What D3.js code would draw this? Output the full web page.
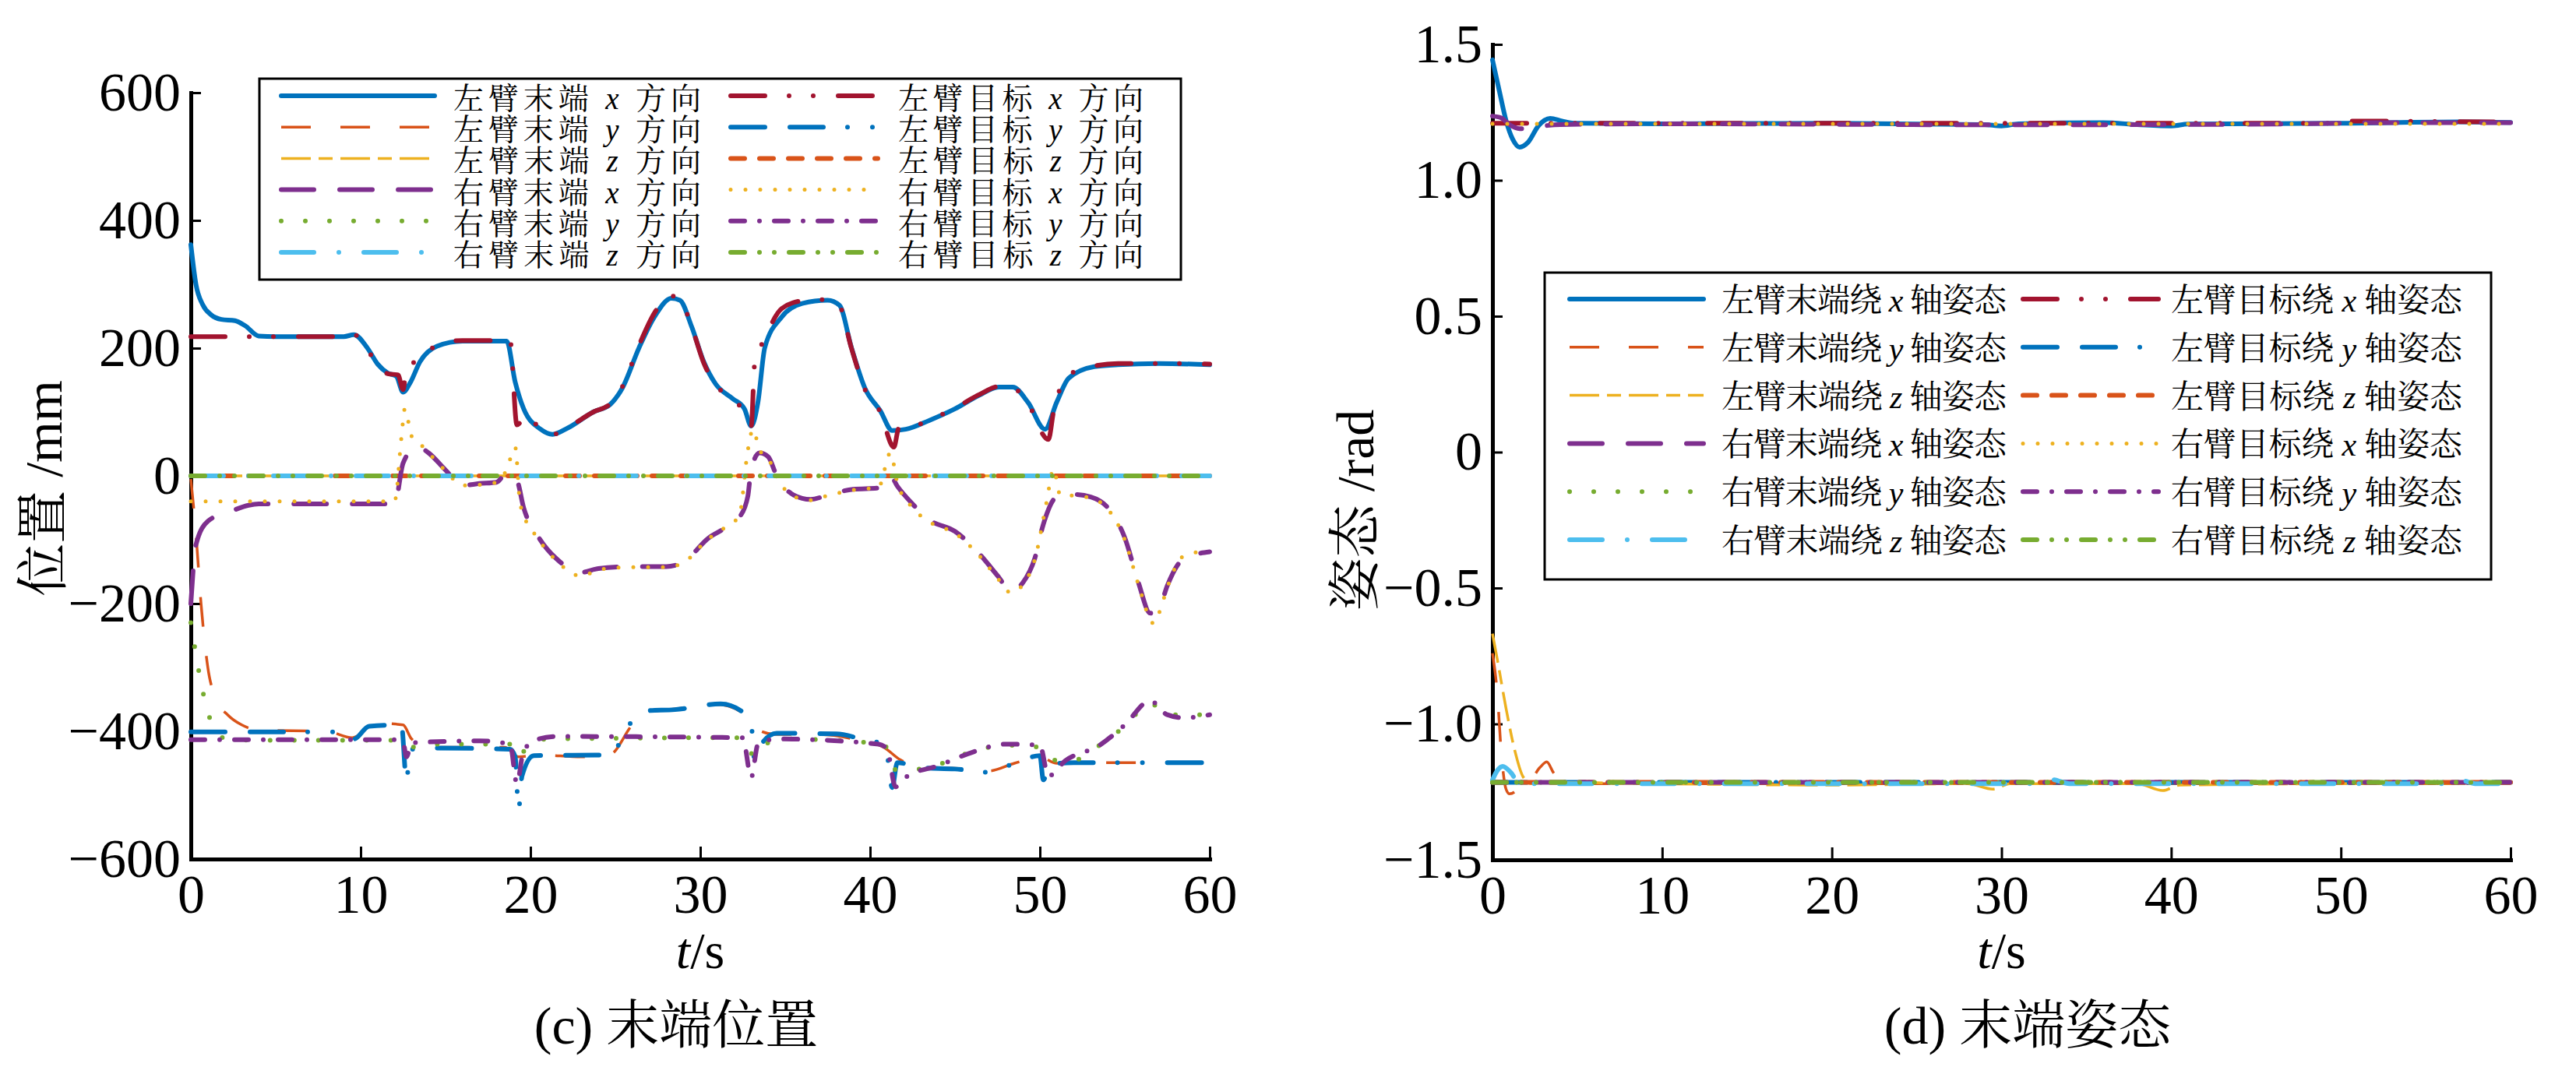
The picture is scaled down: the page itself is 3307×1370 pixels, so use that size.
<!DOCTYPE html>
<meta charset="utf-8">
<script src="https://d3js.org/d3.v7.min.js"></script>
<style>
  body { margin: 0; background: #fff; }
</style>
<body>
<script>

    // ---- ticks ----
    var timeTicks = [0, 10, 20, 30, 40, 50, 60];
    var posTicks = [-600, -400, -200, 0, 200, 400, 600];
    var attTicks = [-1.5, -1, -0.5, 0, 0.5, 1, 1.5];

    // ---- (c) end position, mm  [t, value] ----
    var posLeftActX = [[0,362],[0.3,300],[0.7,268],[1.2,252],[1.8,245],[2.6,243],[3.2,235],[4,219],[5,218],[9,218],[9.6,221],[10.4,200],[11,175],[11.6,161],[12.1,156],[12.5,131],[12.9,145],[13.5,179],[14.5,203],[16,211],[18.6,211],[19.1,147],[19.6,105],[20.6,73],[21.3,65],[22.2,75],[23.7,100],[24.7,112],[25.4,137],[26.4,201],[27.3,249],[28.3,278],[28.8,275],[29.5,233],[30.2,179],[30.9,144],[31.9,121],[32.6,105],[33,78],[33.4,116],[33.8,201],[34.8,249],[36,270],[37.5,275],[38.2,267],[38.9,201],[39.7,137],[40.6,102],[41.3,71],[42.1,73],[43.5,87],[45,105],[46.4,126],[47.6,139],[48.4,139],[49.3,115],[50.3,73],[51,116],[51.7,153],[53.2,171],[54.6,174],[57,176],[60,174]];
    var posLeftTgtX = [[0,218],[9,218],[9.6,221],[10.4,198],[11,172],[11.6,160],[12.2,158],[12.5,135],[12.7,170],[13.5,182],[14.5,205],[16,212],[18.8,212],[19.2,80],[19.8,95],[20.6,72],[21.3,65],[22.2,76],[23.7,100],[24.7,113],[25.4,139],[26.4,205],[27.3,255],[28.2,282],[28.8,276],[29.5,233],[30.2,177],[30.9,143],[31.9,120],[32.6,100],[33,78],[33.2,175],[33.8,215],[34.8,262],[36,274],[37.5,276],[38.2,266],[38.9,200],[39.7,135],[40.6,100],[41.4,45],[41.7,75],[42.1,74],[43.5,88],[45,106],[46.4,127],[47.6,140],[48.4,138],[49.3,113],[50.5,57],[50.8,100],[51.7,158],[53.2,172],[54.6,176],[57,176],[60,175]];
    var posLeftActY = [[0,-5],[0.3,-90],[0.6,-200],[1,-300],[1.5,-350],[2.2,-375],[3,-390],[4,-398],[8,-400],[9.5,-410],[10.5,-395],[11.5,-388],[12.5,-390],[13,-412],[14,-425],[18.5,-425],[19.3,-440],[20.5,-437],[23,-440],[24.7,-436],[26,-390],[27,-370],[28.5,-365],[31,-358],[32.3,-368],[33.2,-395],[34.5,-405],[37,-405],[39,-412],[40.8,-425],[41.8,-445],[43,-455],[45,-458],[47,-462],[48.5,-450],[50,-440],[51,-450],[53,-449],[60,-449]];
    var posLeftTgtY = [[0,-401],[9,-401],[9.6,-412],[10.5,-392],[12.4,-390],[12.7,-478],[12.9,-430],[13.5,-426],[18.8,-428],[19.1,-440],[19.3,-523],[19.5,-470],[20.2,-438],[24.7,-437],[25.8,-390],[26.8,-368],[28.5,-366],[31.2,-357],[32.4,-368],[33,-390],[33.2,-445],[33.6,-420],[34.5,-403],[38,-404],[39.5,-412],[40.9,-422],[41.3,-488],[41.6,-449],[43,-457],[45,-459],[47,-464],[48.5,-450],[50,-438],[50.2,-476],[50.6,-452],[52,-449],[60,-449]];
    var posLeftActZ = [[0,0],[60,0]];
    var posLeftTgtZ = [[0,0],[60,0]];
    var posRightActX = [[0,-200],[0.3,-108],[1,-71],[2.4,-55],[3.4,-46],[4,-44],[12,-44],[12.5,20],[13.3,46],[14,36],[15,9],[16,-15],[17,-12],[18,-10],[18.6,4],[19.2,-7],[19.6,-50],[20.5,-97],[21.5,-129],[23,-151],[24,-145],[26,-142],[28,-142],[29,-135],[30.5,-97],[31.5,-81],[32.3,-65],[32.8,-32],[33,11],[33.5,36],[34,30],[34.5,0],[35.5,-30],[36.5,-37],[37.5,-30],[39,-21],[40.5,-19],[41.2,0],[41.6,-16],[42.5,-44],[43.5,-69],[45,-87],[46.5,-124],[47.5,-156],[48.3,-180],[49,-167],[49.7,-129],[50.2,-76],[51,-33],[52,-29],[53,-33],[54,-50],[55,-97],[55.8,-167],[56.5,-215],[57,-209],[57.5,-172],[58.5,-129],[60,-119]];
    var posRightTgtX = [[0,-40],[12,-40],[12.4,60],[12.6,105],[13,62],[13.5,50],[14,36],[15,8],[16,-15],[17,-14],[18,-10],[18.6,10],[19.1,45],[19.4,-45],[20.5,-100],[21.5,-132],[23,-157],[24,-147],[26,-143],[28,-143],[29,-136],[30.5,-98],[31.5,-80],[32.3,-62],[32.8,40],[33.1,73],[33.5,40],[34,28],[34.5,-2],[35.5,-32],[36.5,-38],[37.5,-31],[39,-22],[40.5,-18],[41.2,36],[41.6,-10],[42.5,-50],[43.5,-72],[45,-90],[46.5,-127],[47.5,-160],[48.3,-183],[49,-170],[49.7,-131],[50.4,-40],[50.8,11],[51.2,-30],[52,-31],[53,-35],[54,-52],[55,-100],[55.8,-170],[56.7,-231],[57.2,-200],[57.5,-175],[58.5,-125],[60,-117]];
    var posRightActY = [[0,-230],[0.5,-310],[1,-370],[1.5,-400],[2.2,-413],[4,-414],[12,-414],[12.6,-420],[13,-425],[14,-420],[18.8,-420],[19.2,-440],[20,-420],[21,-412],[32.5,-410],[33.2,-440],[34,-418],[35,-412],[40.8,-420],[41.5,-460],[42.5,-460],[44,-452],[46,-432],[48,-422],[50,-425],[50.8,-445],[52,-445],[53.5,-422],[55,-392],[56.5,-356],[57.5,-374],[60,-374]];
    var posRightTgtY = [[0,-413],[12,-413],[12.5,-417],[12.7,-440],[13,-418],[17,-415],[18.8,-420],[19.2,-482],[19.6,-430],[20.5,-412],[21.5,-408],[32.5,-410],[33,-472],[33.4,-420],[34.5,-412],[40.5,-420],[41,-428],[41.5,-487],[42.2,-470],[44,-454],[46,-433],[48,-420],[50,-422],[50.5,-470],[51.5,-446],[53.5,-422],[55,-390],[56.5,-352],[57.5,-374],[58.5,-379],[60,-374]];
    var posRightActZ = [[0,0],[60,0]];
    var posRightTgtZ = [[0,0],[60,0]];

    // ---- (d) end attitude, rad  [t, value] ----
    var attLeftActX = [[0,1.443],[0.4,1.33],[0.8,1.22],[1.2,1.15],[1.6,1.122],[2.1,1.14],[2.7,1.2],[3.4,1.228],[4.1,1.218],[4.8,1.21],[10,1.208],[20,1.21],[29,1.205],[30,1.2],[31,1.208],[36,1.212],[38,1.205],[40,1.2],[41,1.207],[50,1.21],[57,1.215],[60,1.213]];
    var attLeftTgtX = [[0,1.21],[50,1.21],[50.6,1.218],[60,1.214]];
    var attLeftActY = [[0,-0.74],[0.3,-0.9],[0.5,-1.09],[0.8,-1.24],[1,-1.257],[1.4,-1.245],[1.8,-1.21],[2.3,-1.2],[2.8,-1.16],[3.2,-1.14],[3.6,-1.18],[4.2,-1.22],[10,-1.22],[60,-1.22]];
    var attLeftTgtY = [[0,-1.215],[60,-1.215]];
    var attLeftActZ = [[0,-0.668],[0.3,-0.768],[0.8,-0.943],[1.3,-1.094],[1.8,-1.194],[2.3,-1.219],[3,-1.215],[10,-1.22],[20,-1.225],[28,-1.22],[29.5,-1.24],[30.5,-1.22],[38,-1.22],[39.5,-1.245],[40.5,-1.225],[50,-1.22],[60,-1.22]];
    var attLeftTgtZ = [[0,-1.215],[60,-1.215]];
    var attRightActX = [[0,1.236],[0.5,1.23],[1,1.205],[1.6,1.19],[2.2,1.192],[3,1.2],[4,1.205],[10,1.208],[30,1.204],[40,1.205],[50,1.21],[50.6,1.22],[51.5,1.212],[60,1.212]];
    var attRightTgtX = [[0,1.208],[60,1.208]];
    var attRightActY = [[0,-1.215],[60,-1.215]];
    var attRightTgtY = [[0,-1.215],[60,-1.215]];
    var attRightActZ = [[0,-1.206],[0.3,-1.17],[0.6,-1.156],[1.1,-1.18],[1.6,-1.222],[2.5,-1.22],[32,-1.22],[33,-1.205],[34,-1.22],[56,-1.22],[57,-1.207],[58,-1.22],[60,-1.22]];
    var attRightTgtZ = [[0,-1.215],[60,-1.215]];

    // ---- legend labels: [prefix, axis letter, suffix] ----
    var posNames = [
        ["左臂末端", "x", "方向"], ["左臂末端", "y", "方向"], ["左臂末端", "z", "方向"],
        ["右臂末端", "x", "方向"], ["右臂末端", "y", "方向"], ["右臂末端", "z", "方向"],
        ["左臂目标", "x", "方向"], ["左臂目标", "y", "方向"], ["左臂目标", "z", "方向"],
        ["右臂目标", "x", "方向"], ["右臂目标", "y", "方向"], ["右臂目标", "z", "方向"]
    ];
    var attNames = [
        ["左臂末端绕", "x", "轴姿态"], ["左臂末端绕", "y", "轴姿态"], ["左臂末端绕", "z", "轴姿态"],
        ["右臂末端绕", "x", "轴姿态"], ["右臂末端绕", "y", "轴姿态"], ["右臂末端绕", "z", "轴姿态"],
        ["左臂目标绕", "x", "轴姿态"], ["左臂目标绕", "y", "轴姿态"], ["左臂目标绕", "z", "轴姿态"],
        ["右臂目标绕", "x", "轴姿态"], ["右臂目标绕", "y", "轴姿态"], ["右臂目标绕", "z", "轴姿态"]
    ];

    // line styles, in legend order (6 actual, then 6 target)
    var styles = [
        {color: "#0072BD", w: 6,   cap: "round", dash: null},
        {color: "#D95319", w: 3.5, cap: "butt",  dash: "38,38"},
        {color: "#EDB120", w: 3.5, cap: "butt",  dash: "38,10,18,10"},
        {color: "#7E2F8E", w: 6,   cap: "round", dash: "42,33"},
        {color: "#77AC30", w: 6,   cap: "round", dash: "0,31"},
        {color: "#4DBEEE", w: 6,   cap: "round", dash: "42,32,0,32"},
        {color: "#A2142F", w: 6,   cap: "round", dash: "44,31,0,31,0,32"},
        {color: "#0072BD", w: 6,   cap: "round", dash: "44,32,43,31,0,32,0,32"},
        {color: "#D95319", w: 6,   cap: "round", dash: "18,19"},
        {color: "#EDB120", w: 5,   cap: "round", dash: "0,19"},
        {color: "#7E2F8E", w: 6,   cap: "round", dash: "18,19,0,19"},
        {color: "#77AC30", w: 6,   cap: "round", dash: "18,19,0,19,0,19"}
    ];

    var posSeries = [posLeftActX, posLeftActY, posLeftActZ, posRightActX, posRightActY, posRightActZ,
                     posLeftTgtX, posLeftTgtY, posLeftTgtZ, posRightTgtX, posRightTgtY, posRightTgtZ];
    var attSeries = [attLeftActX, attLeftActY, attLeftActZ, attRightActX, attRightActY, attRightActZ,
                     attLeftTgtX, attLeftTgtY, attLeftTgtZ, attRightTgtX, attRightTgtY, attRightTgtZ];
    // draw order: actual then target, pair by pair
    var drawOrder = [0, 6, 1, 7, 2, 8, 3, 9, 4, 10, 5, 11];

    var FONT = "'Liberation Serif', 'Times New Roman', 'Noto Serif CJK SC', 'Noto Sans CJK SC', serif";

    var svg = d3.select("body")
        .append("svg")
        .attr("width", 3307)
        .attr("height", 1370)
        .style("font-family", FONT);

    function applyStyle(sel, st) {
        sel.attr("fill", "none")
            .attr("stroke", st.color)
            .attr("stroke-width", st.w)
            .attr("stroke-linecap", st.cap)
            .attr("stroke-linejoin", "round");
        if (st.dash) sel.attr("stroke-dasharray", st.dash);
    }

    function drawPanel(p) {
        var x = d3.scaleLinear().domain([0, 60]).range([p.left, p.right]);
        var y = d3.scaleLinear().domain(p.yDomain).range([p.bottom, p.top]);
        var g = svg.append("g");

        // x axis
        var xa = g.append("g")
            .attr("transform", "translate(0," + p.bottom + ")")
            .call(d3.axisBottom(x).tickValues(timeTicks).tickSize(-16).tickSizeOuter(0).tickPadding(19));
        // y axis
        var ya = g.append("g")
            .attr("transform", "translate(" + p.left + ",0)")
            .call(d3.axisLeft(y).tickValues(p.yTicks).tickFormat(p.fmt).tickSize(-13).tickSizeOuter(0).tickPadding(13));

        [xa, ya].forEach(function (a) {
            a.attr("font-family", FONT).attr("font-size", 70);
            a.select(".domain").attr("stroke", "#000").attr("stroke-width", 5).attr("stroke-linecap", "square");
            a.selectAll(".tick line").attr("stroke", "#000").attr("stroke-width", 3);
            a.selectAll(".tick text").attr("fill", "#000");
        });

        // curves
        var line = d3.line()
            .x(function (d) { return x(d[0]); })
            .y(function (d) { return y(d[1]); })
            .curve(d3.curveMonotoneX);
        drawOrder.forEach(function (i) {
            g.append("path").attr("d", line(p.series[i])).call(applyStyle, styles[i]);
        });

        // axis labels and caption
        var xl = g.append("text")
            .attr("x", (p.left + p.right) / 2)
            .attr("y", 1243)
            .attr("text-anchor", "middle")
            .attr("font-size", 66);
        xl.append("tspan").attr("font-style", "italic").text("t");
        xl.append("tspan").text("/s");

        g.append("text")
            .attr("transform", "translate(" + p.ylabX + "," + p.ylabY + ") rotate(-90)")
            .attr("text-anchor", "middle")
            .attr("dominant-baseline", "central")
            .attr("font-size", 68)
            .text(p.ylabel);

        g.append("text")
            .attr("x", p.capX)
            .attr("y", 1340)
            .attr("text-anchor", "middle")
            .attr("font-size", 68)
            .text(p.caption);

        // legend
        var L = p.legend;
        g.append("rect")
            .attr("x", L.x0).attr("y", L.y0)
            .attr("width", L.x1 - L.x0).attr("height", L.y1 - L.y0)
            .attr("fill", "#fff").attr("stroke", "#000").attr("stroke-width", 3);
        p.names.forEach(function (nm, i) {
            var col = i < 6 ? L.cols[0] : L.cols[1];
            var ry = L.rowY + (i % 6) * L.rowH;
            g.append("line")
                .attr("x1", col.l0).attr("x2", col.l1)
                .attr("y1", ry).attr("y2", ry)
                .call(applyStyle, styles[i]);
            var t = g.append("text")
                .attr("x", col.tx)
                .attr("y", ry + L.textDy)
                .attr("dominant-baseline", "central")
                .attr("font-size", L.fs)
                .attr("textLength", col.tw)
                .attr("lengthAdjust", "spacing");
            t.append("tspan").text(nm[0] + " ");
            t.append("tspan").attr("font-style", "italic").text(nm[1]);
            t.append("tspan").text(" " + nm[2]);
        });
    }

    drawPanel({
        left: 245, right: 1553, top: 119, bottom: 1103,
        yDomain: [-600, 600], yTicks: posTicks, fmt: d3.format("d"),
        series: posSeries, names: posNames,
        ylabel: "位置 /mm", ylabX: 56, ylabY: 627,
        caption: "(c) 末端位置", capX: 868,
        legend: {
            x0: 333, y0: 101, x1: 1516, y1: 359, rowY: 123, rowH: 40.2, textDy: 3, fs: 39,
            cols: [{l0: 361, l1: 558, tx: 582, tw: 318}, {l0: 938, l1: 1127, tx: 1153, tw: 315}]
        }
    });

    drawPanel({
        left: 1916, right: 3223, top: 57, bottom: 1104,
        yDomain: [-1.5, 1.5], yTicks: attTicks,
        fmt: function (d) { return d === 0 ? "0" : d3.format(".1f")(d); },
        series: attSeries, names: attNames,
        ylabel: "姿态 /rad", ylabX: 1740, ylabY: 655,
        caption: "(d) 末端姿态", capX: 2603,
        legend: {
            x0: 1983, y0: 350, x1: 3198, y1: 744, rowY: 384, rowH: 61.8, textDy: 2, fs: 42,
            cols: [{l0: 2015, l1: 2187, tx: 2210, tw: 366}, {l0: 2597, l1: 2771, tx: 2787, tw: 374}]
        }
    });

</script>
</body>
